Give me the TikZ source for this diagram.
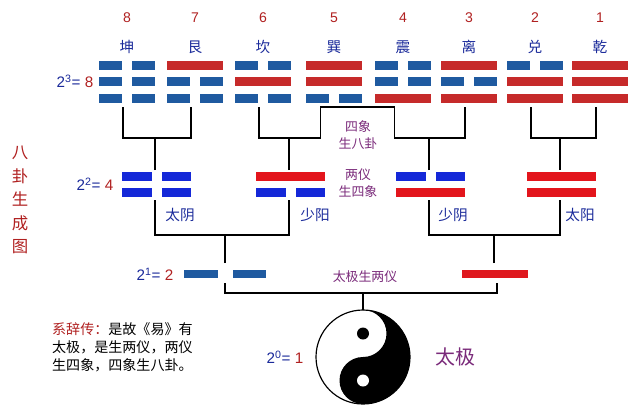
\documentclass[tikz,border=0pt]{standalone}
\usepackage{fontspec}
\setmainfont{Liberation Sans}
\newfontfamily\cjk{Noto Sans CJK SC}
\usetikzlibrary{calc}
\definecolor{ddblue}{HTML}{1F5AA0}
\definecolor{ddred}{HTML}{C62A2A}
\definecolor{brblue}{HTML}{1428D8}
\definecolor{brred}{HTML}{E3151C}
\definecolor{plum}{HTML}{7A2A7A}
\definecolor{lblue}{HTML}{1A2A9A}
\definecolor{numred}{HTML}{B02020}
\tikzset{
  link/.style={line width=1.3pt,black},
  guaname/.style={font=\cjk\fontsize{12.5}{14}\selectfont,text=lblue},
  guanum/.style={font=\fontsize{12}{14}\selectfont,text=numred},
  power/.style={font=\fontsize{13}{15}\selectfont,text=lblue},
  note/.style={font=\cjk\fontsize{11}{14}\selectfont,text=plum,align=center}
}
% #1 centre x, #2 centre y, #3 width, #4 gap, #5 height, #6 bit, #7 yin colour, #8 yang colour
\newcommand\yaoline[8]{%
  \ifnum#6=1
    \fill[#8] (#1-#3/2,#2-#5/2) rectangle (#1+#3/2,#2+#5/2);
  \else
    \fill[#7] (#1-#3/2,#2-#5/2) rectangle (#1-#4/2,#2+#5/2);
    \fill[#7] (#1+#4/2,#2-#5/2) rectangle (#1+#3/2,#2+#5/2);
  \fi}
\begin{document}
\begin{tikzpicture}[x=0.03cm,y=-0.03cm]
\useasboundingbox (0,0) rectangle (640,410);

% eight trigrams
\foreach \n/\x/\nm/\a/\b/\c in {8/127/坤/0/0/0,7/195/艮/1/0/0,6/263/坎/0/1/0,5/334/巽/1/1/0,
    4/403/震/0/0/1,3/469/离/1/0/1,2/535/兑/0/1/1,1/600/乾/1/1/1}{
  \node[guanum] (n\n) at (\x,18) {\n};
  \node[guaname] (g\n) at (\x,47) {\nm};
  \yaoline{\x}{65}{56}{10}{9}{\a}{ddblue}{ddred}
  \yaoline{\x}{81}{56}{10}{9}{\b}{ddblue}{ddred}
  \yaoline{\x}{98}{56}{10}{9}{\c}{ddblue}{ddred}
  \coordinate (t\n) at (\x-4,107);
}
\node[power] (p3) at (75,81) {2\textsuperscript{3}= \textcolor{numred}{8}};

% four images
\foreach \n/\x/\a/\b in {1/156.5/0/0,2/290.5/1/0,3/430.5/0/1,4/561.5/1/1}{
  \yaoline{\x}{176}{69}{10}{9}{\a}{brblue}{brred}
  \yaoline{\x}{192}{69}{10}{9}{\b}{brblue}{brred}
  \coordinate (q\n) at (\x-1.5,170);
  \coordinate (r\n) at (\x-1.5,200);
}
\node[power] (p2) at (95,184) {2\textsuperscript{2}= \textcolor{numred}{4}};
\node[guaname] (s1) at (180,215) {太阴};
\node[guaname] (s2) at (315,215) {少阳};
\node[guaname] (s3) at (453,215) {少阴};
\node[guaname] (s4) at (580,215) {太阳};

% trigrams to images
\draw[link] (t8) |- ($(t8)!.5!(t7)+(0,31)$) -| (t7);
\draw[link] (q1) -- ++(0,-32);
\draw[link] (t6) -- ++(0,31) -| ([xshift=-8]t5) -- ++(74,0) -- ++(0,31) -| (t3);
\draw[link] (q2) -- ++(0,-32);
\draw[link] (q3) -- ++(0,-32);
\draw[link] (t2) |- ($(t2)!.5!(t1)+(0,31)$) -| (t1);
\draw[link] (q4) -- ++(0,-32);
\node[note] (x8) at (358,135) {四象\\生八卦};
\node[note] (x4) at (358,183) {两仪\\生四象};

% two modes
\fill[ddblue] (184,270) rectangle (218,278);
\fill[ddblue] (233,270) rectangle (266,278);
\fill[brred!85!ddred] (462,270) rectangle (528,278);
\coordinate (m1) at (225,263);
\coordinate (m2) at (494,263);
\coordinate (k1) at (225,283);
\coordinate (k2) at (497,283);
\draw[link] (r1) |- ($(r1)!.5!(r2)+(0,35)$) -| (r2);
\draw[link] (r3) |- ($(r3)!.5!(r4)+(0,35)$) -| (r4);
\draw[link] (m1) -- ++(0,-28);
\draw[link] (m2) -- ++(0,-28);
\node[power] (p1) at (155,274) {2\textsuperscript{1}= \textcolor{numred}{2}};
\node[note] (x2) at (365,277) {太极生两仪};

% taiji
\coordinate (tj) at (363,357);
\draw[link] (k1) |- (tj |- 0,293) -| (k2);
\draw[link] (tj |- 0,293) -- ++(0,17);
\begin{scope}[shift={(tj)},y=0.03cm]
  \fill[black] (0,47) arc[start angle=90,end angle=-90,radius=47]
    arc[start angle=-90,end angle=-270,radius=23.5]
    arc[start angle=-90,end angle=90,radius=23.5] -- cycle;
  \draw[line width=1pt] (0,0) circle[radius=47];
  \fill[black] (0,23.5) circle[radius=6];
  \fill[white] (0,-23.5) circle[radius=6];
\end{scope}
\node[power] (p0) at (285,357) {2\textsuperscript{0}= \textcolor{numred}{1}};
\node[note,font=\cjk\fontsize{17}{19}\selectfont] (tjname) at (455,357) {太极};

% title and quote
\node[font=\cjk\fontsize{14}{20}\selectfont,text=numred,align=center] (title) at (20,200)
  {八\\卦\\生\\成\\图};
\node[font=\cjk\fontsize{12}{15.5}\selectfont,align=left,anchor=north west] (quote) at (48,318)
  {\textcolor{numred}{系辞传：}是故《易》有\\太极，是生两仪，两仪\\生四象，四象生八卦。};
\end{tikzpicture}
\end{document}
